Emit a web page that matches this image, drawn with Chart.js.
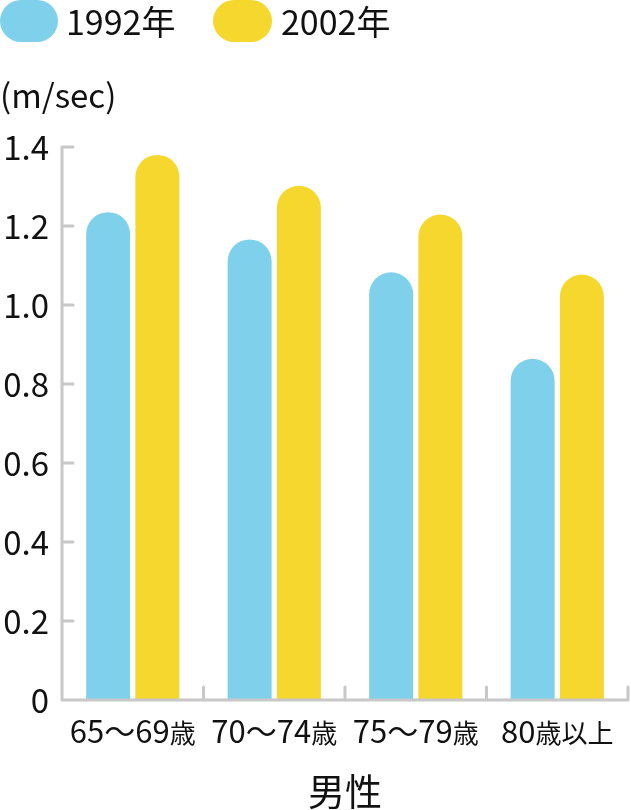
<!DOCTYPE html>
<html>
<head>
<meta charset="utf-8">
<script src="https://cdn.jsdelivr.net/npm/chart.js@4.4.1/dist/chart.umd.min.js"></script>
<style>
  body { margin: 0; background: #fff; }
  #wrap { position: relative; width: 631px; height: 810px; font-family: "Noto Sans CJK JP", sans-serif; color: #111; }
  #chart { position: absolute; left: 0; top: 0; }
  .pill { position: absolute; top: 0; height: 42px; border-radius: 21px; }
  .ltext { position: absolute; top: 0; height: 42px; line-height: 42px; font-size: 34px; white-space: nowrap; }
  #unit { position: absolute; left: 0; top: 76px; line-height: 36px; font-size: 33px; white-space: nowrap; }
</style>
</head>
<body>
<div id="wrap">
  <canvas id="chart" width="631" height="810"></canvas>
  <div class="pill" id="pill0" style="left:0; width:58px;"></div>
  <div class="ltext" id="ltext0" style="left:66px;"></div>
  <div class="pill" id="pill1" style="left:213px; width:59px;"></div>
  <div class="ltext" id="ltext1" style="left:281px;"></div>
  <div id="unit"></div>
</div>
<script>
const categories = ['65〜69歳', '70〜74歳', '75〜79歳', '80歳以上'];
const seriesNames = ['1992年', '2002年'];
const values1992 = [1.235, 1.166, 1.083, 0.864];
const values2002 = [1.38, 1.302, 1.229, 1.077];
const yTickLabels = ['0', '0.2', '0.4', '0.6', '0.8', '1.0', '1.2', '1.4'];
const unitLabel = '(m/sec)';
const xTitle = '男性';

const colors = ['#7fd1eb', '#f6d72d'];
const axisColor = '#c8c8c8';
const fontName = '"Noto Sans CJK JP", sans-serif';

// legend and unit as html
seriesNames.forEach((name, i) => {
    document.getElementById('pill' + i).style.background = colors[i];
    document.getElementById('ltext' + i).textContent = name;
});
document.getElementById('unit').textContent = unitLabel;

// axis lines with inward ticks
const axisPlugin = {
    id: 'axisLines',
    afterDatasetsDraw(chart) {
        const {ctx, chartArea, scales: {x, y}} = chart;
        const left = chartArea.left, bottom = chartArea.bottom;
        ctx.save();
        ctx.strokeStyle = axisColor;
        ctx.lineWidth = 3;
        ctx.lineCap = 'round';
        ctx.lineJoin = 'round';
        ctx.beginPath();
        ctx.moveTo(left, y.getPixelForValue(y.max));
        ctx.lineTo(left, bottom);
        ctx.lineTo(chartArea.right, bottom);
        y.ticks.forEach(t => {
            if (t.value === 0) return;
            const py = y.getPixelForValue(t.value);
            ctx.moveTo(left, py);
            ctx.lineTo(left + 11, py);
        });
        for (let i = 0; i < categories.length; i++) {
            let bx = chartArea.right;
            if (i < categories.length - 1) {
                bx = (x.getPixelForValue(i) + x.getPixelForValue(i + 1)) / 2;
            }
            ctx.moveTo(bx, bottom);
            ctx.lineTo(bx, bottom - 13);
        }
        ctx.stroke();
        ctx.restore();
    }
};

// x labels: numbers bigger than the kanji
const xLabelPlugin = {
    id: 'xLabels',
    afterDraw(chart) {
        const {ctx, chartArea, scales: {x}} = chart;
        const bigFont = '31px ' + fontName;
        const smallFont = '26px ' + fontName;
        ctx.save();
        ctx.fillStyle = '#111';
        ctx.textBaseline = 'alphabetic';
        ctx.textAlign = 'left';
        categories.forEach((label, i) => {
            const parts = label.match(/[0-9〜]+|[^0-9〜]+/g);
            let total = 0;
            const widths = parts.map(p => {
                ctx.font = /[0-9〜]/.test(p) ? bigFont : smallFont;
                const w = ctx.measureText(p).width;
                total += w;
                return w;
            });
            let px = x.getPixelForValue(i) - total / 2;
            parts.forEach((p, k) => {
                ctx.font = /[0-9〜]/.test(p) ? bigFont : smallFont;
                ctx.fillText(p, px, chartArea.bottom + 43);
                px += widths[k];
            });
        });
        ctx.restore();
    }
};

new Chart(document.getElementById('chart'), {
    type: 'bar',
    data: {
        labels: categories,
        datasets: [
            { label: seriesNames[0], data: values1992, backgroundColor: colors[0] },
            { label: seriesNames[1], data: values2002, backgroundColor: colors[1] }
        ]
    },
    options: {
        responsive: false,
        animation: false,
        layout: { padding: { top: 147, right: 3, left: 0, bottom: 0 } },
        datasets: {
            bar: {
                borderRadius: 30,
                borderSkipped: 'start',
                categoryPercentage: 0.696,
                barPercentage: 0.893
            }
        },
        plugins: {
            legend: { display: false },
            tooltip: { enabled: false }
        },
        scales: {
            x: {
                grid: { display: false, drawTicks: false },
                border: { display: false },
                ticks: { display: false },
                title: {
                    display: true,
                    text: xTitle,
                    color: '#111',
                    font: { family: fontName, size: 37, lineHeight: 1 },
                    padding: { top: 0, bottom: 0 }
                },
                afterFit(scale) { scale.height = 110; }
            },
            y: {
                min: 0,
                max: 1.4,
                grid: { display: false, drawTicks: false },
                border: { display: false },
                ticks: {
                    stepSize: 0.2,
                    padding: 13,
                    color: '#111',
                    font: { family: fontName, size: 33 },
                    callback: (value, index) => yTickLabels[index]
                },
                afterFit(scale) { scale.width = 62; }
            }
        }
    },
    plugins: [axisPlugin, xLabelPlugin]
});
</script>
</body>
</html>
